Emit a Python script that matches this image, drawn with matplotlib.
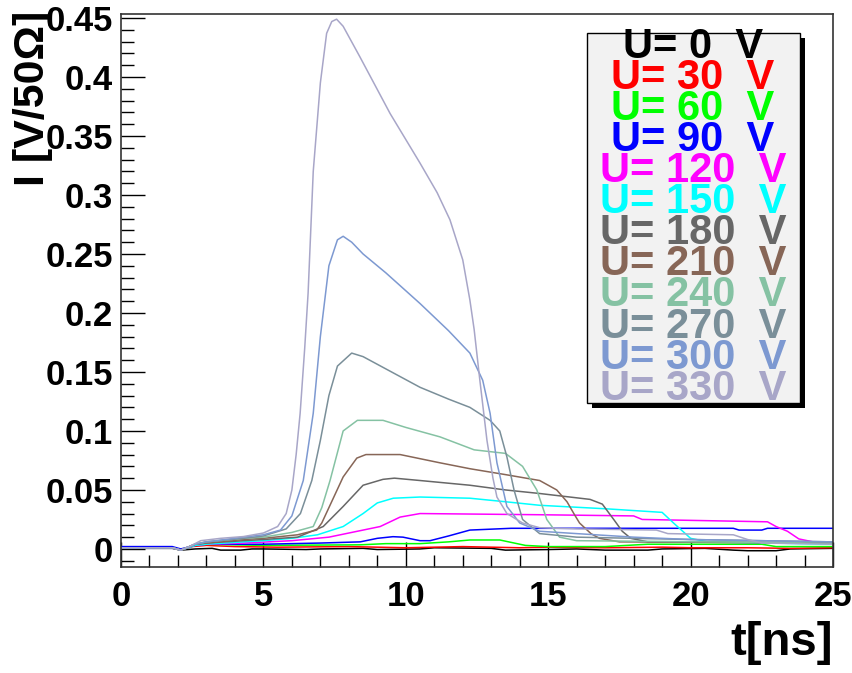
import matplotlib
matplotlib.use("Agg")
import matplotlib.pyplot as plt
from matplotlib.patches import Rectangle
from matplotlib.ticker import MultipleLocator

plt.rcParams['font.family'] = ['Liberation Sans', 'DejaVu Sans']
plt.rcParams['font.weight'] = 'bold'

# bias voltages and the ROOT-ish colours used for each trace
voltages = [0, 30, 60, 90, 120, 150, 180, 210, 240, 270, 300, 330]
colors = ['#000000', '#ff0000', '#00ff00', '#0000ff', '#ff00ff', '#00ffff',
          '#676767', '#876657', '#85c2a3', '#7a8f99', '#7d99d1', '#a8a6c8']

# current pulses: time [ns] / I [V/50 Ohm]
t_0 = [0, 1.8, 2.1, 2.6, 3.2, 3.5, 4.2, 4.6, 5.0, 6.5, 7.0, 8.5, 9.0, 10.5, 11.0, 13.0,
       13.5, 15.0, 16.0, 17.0, 18.5, 19.0, 20.5, 21.5, 22.0, 23.0, 23.5, 25]
i_0 = [0.0005, 0.0005, -0.001, 0.0, 0.0005, -0.001, -0.001, 0.0, 0.0, -0.0005, 0.0, 0.0005,
       -0.0005, 0.0, 0.001, 0.0005, -0.001, -0.0005, 0.0, -0.001, -0.001, 0.0, 0.0005, -0.001,
       -0.0015, -0.0015, 0.0, 0.0005]

t_30 = [0, 1.8, 2.1, 2.5, 3.0, 4.0, 5.5, 8.0, 10.0, 12.0, 14.0, 15.0, 17.0, 19.0, 20.0, 22.0, 23.5, 25]
i_30 = [0.001, 0.001, -0.001, 0.002, 0.003, 0.002, 0.0015, 0.002, 0.001, 0.002, 0.001, 0.0015,
        0.001, 0.0015, 0.001, 0.001, 0.0005, 0.001]

t_60 = [0, 1.8, 2.1, 2.6, 3.0, 5.0, 8.4, 9.3, 10.5, 11.5, 12.25, 13.3, 14.2, 15.0, 17.0, 18.5,
        22.5, 23.0, 25]
i_60 = [0.001, 0.001, -0.001, 0.003, 0.004, 0.003, 0.0035, 0.0045, 0.0045, 0.006, 0.0076, 0.0076,
        0.003, 0.002, 0.002, 0.004, 0.004, 0.002, 0.002]

t_90 = [0, 1.8, 2.1, 2.6, 3.0, 5.0, 7.0, 8.4, 9.0, 9.55, 9.9, 10.5, 10.85, 11.5, 12.25, 13.7,
        21.5, 21.7, 22.5, 22.7, 25]
i_90 = [0.002, 0.002, 0.0, 0.003, 0.004, 0.004, 0.005, 0.006, 0.009, 0.0104, 0.010, 0.007, 0.007,
        0.011, 0.016, 0.0175, 0.0175, 0.016, 0.016, 0.0175, 0.0175]

t_120 = [0, 1.8, 2.1, 2.6, 3.0, 4.3, 6.0, 7.3, 8.5, 9.1, 9.8, 10.5, 14.7, 18.0, 18.3, 22.7,
         23.0, 23.4, 23.8, 24.3, 25]
i_120 = [0.001, 0.001, -0.001, 0.003, 0.004, 0.005, 0.007, 0.010, 0.016, 0.019, 0.027, 0.030,
         0.029, 0.028, 0.025, 0.023, 0.019, 0.015, 0.0085, 0.006, 0.004]

t_150 = [0, 1.8, 2.1, 2.6, 3.0, 4.3, 5.0, 6.0, 6.9, 7.8, 8.5, 9.0, 9.56, 10.5, 12.25, 13.5,
         14.7, 17.05, 19.0, 19.4, 20.0, 20.6, 25]
i_150 = [0.001, 0.001, -0.001, 0.003, 0.004, 0.006, 0.007, 0.009, 0.012, 0.019, 0.030, 0.039,
         0.043, 0.044, 0.043, 0.040, 0.037, 0.034, 0.031, 0.022, 0.009, 0.006, 0.004]

t_180 = [0, 1.8, 2.1, 2.6, 3.0, 4.3, 5.0, 6.2, 7.1, 7.8, 8.5, 9.2, 9.6, 10.5, 12.25, 13.5,
         14.7, 16.47, 16.9, 17.3, 17.6, 17.9, 18.5, 25]
i_180 = [0.001, 0.001, -0.001, 0.004, 0.005, 0.007, 0.008, 0.010, 0.019, 0.036, 0.054, 0.059,
         0.060, 0.058, 0.054, 0.050, 0.047, 0.042, 0.038, 0.025, 0.015, 0.009, 0.006, 0.005]

t_210 = [0, 1.8, 2.1, 2.6, 3.0, 4.3, 5.0, 6.2, 6.87, 7.05, 7.3, 7.8, 8.28, 8.6, 9.8, 11.2,
         12.25, 13.5, 14.7, 15.3, 15.66, 15.9, 16.1, 16.5, 16.8, 17.5, 25]
i_210 = [0.001, 0.001, -0.001, 0.004, 0.005, 0.008, 0.009, 0.012, 0.016, 0.022, 0.035, 0.061,
         0.077, 0.080, 0.080, 0.073, 0.068, 0.063, 0.058, 0.050, 0.040, 0.030, 0.022, 0.013,
         0.009, 0.006, 0.005]

t_240 = [0, 1.8, 2.1, 2.6, 3.0, 4.3, 5.0, 6.0, 6.75, 7.05, 7.34, 7.8, 8.3, 9.2, 10.0, 11.2,
         12.4, 13.5, 14.1, 14.6, 14.95, 15.4, 16.0, 25]
i_240 = [0.001, 0.001, -0.001, 0.004, 0.006, 0.009, 0.010, 0.014, 0.019, 0.035, 0.058, 0.100,
         0.109, 0.109, 0.103, 0.095, 0.084, 0.081, 0.070, 0.050, 0.025, 0.010, 0.007, 0.005]

t_270 = [0, 1.8, 2.1, 2.6, 3.0, 4.3, 5.0, 5.8, 6.3, 6.7, 7.0, 7.3, 7.6, 8.1, 8.5, 9.5, 10.5,
         11.5, 12.25, 12.96, 13.3, 13.55, 13.8, 14.1, 14.7, 16.0, 20.0, 25]
i_270 = [0.001, 0.001, -0.001, 0.004, 0.006, 0.009, 0.011, 0.017, 0.030, 0.058, 0.092, 0.130,
         0.155, 0.166, 0.163, 0.150, 0.137, 0.127, 0.120, 0.109, 0.100, 0.078, 0.050, 0.025,
         0.013, 0.010, 0.008, 0.006]

t_300 = [0, 1.8, 2.1, 2.6, 3.0, 4.3, 5.0, 5.6, 6.0, 6.4, 6.75, 7.0, 7.3, 7.6, 7.8, 8.1, 8.5,
         9.3, 10.5, 11.5, 12.25, 12.7, 12.96, 13.2, 13.55, 14.0, 14.7, 16.0, 18.0, 20.0, 25]
i_300 = [0.001, 0.001, -0.001, 0.004, 0.006, 0.010, 0.012, 0.016, 0.028, 0.058, 0.115, 0.180,
         0.240, 0.262, 0.265, 0.260, 0.250, 0.234, 0.208, 0.185, 0.166, 0.143, 0.115, 0.073,
         0.036, 0.022, 0.015, 0.013, 0.010, 0.008, 0.006]

t_330 = [0, 1.8, 2.1, 2.4, 2.8, 3.5, 4.3, 5.0, 5.5, 5.8, 6.0, 6.15, 6.29, 6.45, 6.57, 6.75,
         7.0, 7.22, 7.4, 7.57, 7.8, 8.39, 9.45, 10.5, 11.1, 11.55, 12.0, 12.25, 12.4, 12.6,
         12.85, 13.06, 13.2, 13.55, 14.1, 14.7, 16.0, 18.8, 19.2, 21.5, 22.0, 22.5, 25]
i_330 = [0.001, 0.001, -0.001, 0.002, 0.007, 0.009, 0.0105, 0.0135, 0.019, 0.030, 0.050, 0.080,
         0.115, 0.170, 0.217, 0.320, 0.395, 0.437, 0.447, 0.449, 0.443, 0.417, 0.369, 0.327,
         0.302, 0.279, 0.245, 0.211, 0.186, 0.143, 0.092, 0.060, 0.044, 0.030, 0.022, 0.018,
         0.017, 0.016, 0.013, 0.012, 0.008, 0.005, 0.004]

traces = [(t_0, i_0), (t_30, i_30), (t_60, i_60), (t_90, i_90), (t_120, i_120),
          (t_150, i_150), (t_180, i_180), (t_210, i_210), (t_240, i_240),
          (t_270, i_270), (t_300, i_300), (t_330, i_330)]

W, H = 852, 673
fig = plt.figure(figsize=(W / 100, H / 100), dpi=100)
ax = fig.add_axes([121 / W, 1 - 567 / H, (833 - 121) / W, (567 - 14) / H])

for (t, i), col in zip(traces, colors):
    ax.plot(t, i, color=col, lw=1.1)

ax.set_xlim(0, 25)
ax.set_ylim(-0.0153, 0.4534)
ax.xaxis.set_major_locator(MultipleLocator(5))
ax.xaxis.set_minor_locator(MultipleLocator(1))
ax.yaxis.set_major_locator(MultipleLocator(0.05))
ax.yaxis.set_minor_locator(MultipleLocator(0.01))
ax.yaxis.set_major_formatter(plt.FuncFormatter(lambda v, p: ('%g' % round(v, 3))))
ax.tick_params(axis='both', which='both', direction='in', top=False, right=False,
               labelsize=25, width=1)
ax.tick_params(axis='x', which='major', length=18, pad=9)
ax.tick_params(axis='x', which='minor', length=9)
ax.tick_params(axis='y', which='major', length=17, pad=6)
ax.tick_params(axis='y', which='minor', length=9)
for lab in ax.get_xticklabels() + ax.get_yticklabels():
    lab.set_fontweight('bold')
for sp in ax.spines.values():
    sp.set_linewidth(1.2)
    sp.set_color('#333333')

fig.text(33 / W, 1 - 11 / H, 'I [V/50\u03a9]', rotation=90, ha='center', va='top',
         fontsize=31, fontweight='bold')
fig.text(833 / W, 1 - 643 / H, 't[ns]', ha='right', va='center',
         fontsize=34, fontweight='bold')

# legend box with ROOT style drop shadow
bx0, by0, bx1, by1 = 587, 33, 800, 403
fig.patches.append(Rectangle(((bx0 + 5) / W, 1 - (by1 + 5) / H), (bx1 - bx0) / W,
                             (by1 - by0) / H, transform=fig.transFigure,
                             facecolor='black', edgecolor='none', zorder=5))
fig.patches.append(Rectangle((bx0 / W, 1 - by1 / H), (bx1 - bx0) / W, (by1 - by0) / H,
                             transform=fig.transFigure, facecolor='#f2f2f2',
                             edgecolor='black', lw=1, zorder=6))
for k, (u, col) in enumerate(zip(voltages, colors)):
    fig.text(693 / W, 1 - (46.7 + 31.1 * k) / H, 'U= %d  V' % u, ha='center', va='center',
             fontsize=30, fontweight='bold', color=col, zorder=7)

fig.savefig('out.png', dpi=100)
